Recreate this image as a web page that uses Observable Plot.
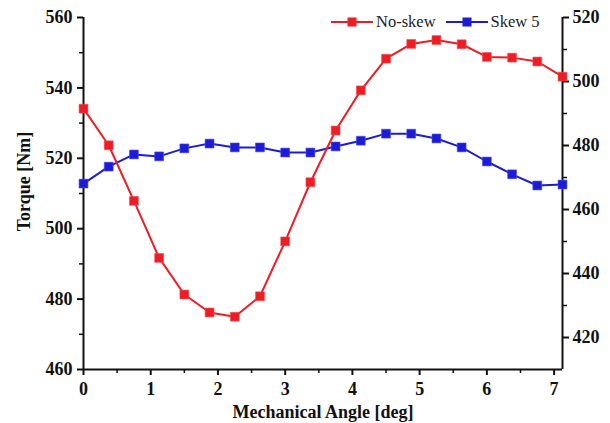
<!DOCTYPE html>
<html>
<head>
<meta charset="utf-8">
<script src="https://cdn.jsdelivr.net/npm/d3@7"></script>
<script src="https://cdn.jsdelivr.net/npm/@observablehq/plot@0.6"></script>
<style>
  html, body { margin: 0; padding: 0; background: #fff; }
  #wrap { position: relative; width: 610px; height: 423px; font-family: "Liberation Serif", "DejaVu Serif", serif; }
  #legend { position: absolute; left: 331px; top: 12px; font-size: 16.5px; color: #222; display: flex; align-items: center; line-height: 20px; }
  #legend span.item { display: inline-flex; align-items: center; margin-right: 10px; }
  #legend svg { margin-right: 3px; }
</style>
</head>
<body>
<div id="wrap">
  <div id="chart"></div>
  <div id="legend"></div>
</div>
<script>
const angles = [0, 0.375, 0.75, 1.125, 1.5, 1.875, 2.25, 2.625, 3, 3.375, 3.75, 4.125, 4.5, 4.875, 5.25, 5.625, 6, 6.375, 6.75, 7.125];
const noSkew = [534.1, 523.7, 507.9, 491.7, 481.3, 476.2, 475.0, 480.8, 496.4, 513.2, 527.9, 539.3, 548.3, 552.5, 553.6, 552.4, 548.8, 548.6, 547.5, 543.2];
const skew5 = [468.1, 473.4, 477.2, 476.6, 479.1, 480.6, 479.4, 479.4, 477.8, 477.8, 479.7, 481.5, 483.7, 483.7, 482.2, 479.4, 475.0, 471.0, 467.5, 467.8];
const leftTicks = [460, 480, 500, 520, 540, 560];
const leftMinor = [470, 490, 510, 530, 550];
const rightTicks = [420, 440, 460, 480, 500, 520];
const rightMinor = [430, 450, 470, 490, 510];
const xTicks = [0, 1, 2, 3, 4, 5, 6, 7];
const xMinor = [0.5, 1.5, 2.5, 3.5, 4.5, 5.5, 6.5];
const seriesNames = ["No-skew", "Skew 5"];
const seriesColors = ["#ee1c24", "#1c1cd6"];
const xLabel = "Mechanical Angle [deg]";
const yLabel = "Torque [Nm]";

const leftDomain = [460, 560];
const rightDomain = [410, 520];
const xDomain = [0, 7.125];
const toLeft = d3.scaleLinear().domain(rightDomain).range(leftDomain);

const red = angles.map((a, i) => ({a, v: noSkew[i]}));
const blue = angles.map((a, i) => ({a, v: toLeft(skew5[i])}));

const chart = Plot.plot({
  width: 610, height: 423,
  marginLeft: 83, marginRight: 48, marginTop: 17, marginBottom: 54,
  style: {fontFamily: "Liberation Serif", fontSize: "18px", fontWeight: "bold", color: "#111", background: "#fff", overflow: "visible"},
  x: {domain: xDomain},
  y: {domain: leftDomain},
  marks: [
    Plot.axisX({ticks: xTicks, tickSize: 6, strokeWidth: 2, tickPadding: 7, fontSize: 18, label: null}),
    Plot.axisX({ticks: xMinor, tickSize: 4, strokeWidth: 1.5, tickFormat: () => "", label: null}),
    Plot.axisY({ticks: leftTicks, tickSize: 6, strokeWidth: 2, tickPadding: 5, fontSize: 18, label: null}),
    Plot.axisY({ticks: leftMinor, tickSize: 4, strokeWidth: 1.5, tickFormat: () => "", label: null}),
    Plot.axisY({anchor: "right", ticks: rightTicks.map(toLeft), tickFormat: (d) => d3.format("d")(Math.round(toLeft.invert(d))), tickSize: 6, strokeWidth: 2, tickPadding: 4, fontSize: 18, label: null}),
    Plot.axisY({anchor: "right", ticks: rightMinor.map(toLeft), tickSize: 4, strokeWidth: 1.5, tickFormat: () => "", label: null}),
    Plot.ruleX([xDomain[0]], {strokeWidth: 2, stroke: "#111"}),
    Plot.ruleX([xDomain[1]], {strokeWidth: 2, stroke: "#111"}),
    Plot.ruleY([leftDomain[0]], {strokeWidth: 2, stroke: "#111"}),
    Plot.text([xLabel], {text: d => d, frameAnchor: "bottom", textAnchor: "middle", lineAnchor: "bottom", dy: 48, dx: 0, fontSize: 18, fontWeight: "bold", fill: "#111"}),
    Plot.text([yLabel], {text: d => d, frameAnchor: "left", rotate: -90, textAnchor: "middle", dx: -59, dy: -12, fontSize: 18, fontWeight: "bold", fill: "#111"}),
    Plot.line(blue, {x: "a", y: "v", stroke: seriesColors[1], strokeWidth: 2}),
    Plot.dot(blue, {x: "a", y: "v", symbol: "square", r: 5, fill: seriesColors[1], stroke: "#4a4af0", strokeWidth: 0.6}),
    Plot.line(red, {x: "a", y: "v", stroke: seriesColors[0], strokeWidth: 2}),
    Plot.dot(red, {x: "a", y: "v", symbol: "square", r: 5, fill: seriesColors[0], stroke: "#f05050", strokeWidth: 0.6})
  ]
});
document.getElementById("chart").appendChild(chart);

const legend = document.getElementById("legend");
seriesNames.forEach((name, i) => {
  const item = document.createElement("span");
  item.className = "item";
  item.innerHTML = `<svg width="42" height="12"><line x1="0" y1="6" x2="42" y2="6" stroke="${seriesColors[i]}" stroke-width="2"/><rect x="16.5" y="1.5" width="9" height="9" fill="${seriesColors[i]}"/></svg><span>${name}</span>`;
  legend.appendChild(item);
});
</script>
</body>
</html>
